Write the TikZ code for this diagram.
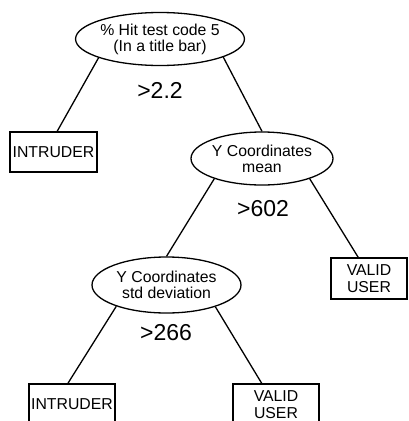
\documentclass[tikz,border=0pt]{standalone}
\usepackage{fontspec}
\setmainfont{Liberation Sans}
\usetikzlibrary{shapes.geometric}
\begin{document}
\begin{tikzpicture}[x=1pt,y=-1pt,
  line width=1.3pt,
  test/.style={ellipse,draw,inner sep=0pt,align=center,
    font=\fontsize{15.8}{16}\selectfont},
  leaf/.style={rectangle,draw,inner sep=0pt,align=center,
    font=\fontsize{15.8}{17}\selectfont},
  thr/.style={inner sep=0pt,font=\fontsize{23}{24}\selectfont}]
\clip (0,0) rectangle (408,421);
\fill[white] (0,0) rectangle (408,421);
\node[test,minimum width=145pt,minimum height=53pt] (top) at (160,39)
  {\% Hit test code 5\\(In a title bar)};
\node[leaf,minimum width=87pt,minimum height=40pt] (intr1) at (53.5,152) {INTRUDER};
\node[test,minimum width=142pt,minimum height=53pt] (mean) at (262,158.5)
  {Y Coordinates\\mean};
\node[leaf,minimum width=76pt,minimum height=41pt] (valid1) at (369,278.5) {VALID\\USER};
\node[test,minimum width=149pt,minimum height=56pt] (std) at (166.5,285)
  {Y Coordinates\\std deviation};
\node[leaf,minimum width=86pt,minimum height=41pt] (intr2) at (72,404.5) {INTRUDER};
\node[leaf,minimum width=86pt,minimum height=41pt] (valid2) at (276,404.5) {VALID\\USER};
\node[thr] (t1) at (160,90) {>2.2};
\node[thr] (t2) at (263,209) {>602};
\node[thr] (t3) at (166,333) {>266};
\draw (top.197) -- (intr1.80);
\draw (top.344) -- (mean.north);
\draw (mean.203) -- (std.north);
\draw (mean.337) -- (valid1.117);
\draw (std.203) -- (intr2.101);
\draw (std.336) -- (valid2.124);
\end{tikzpicture}
\end{document}
